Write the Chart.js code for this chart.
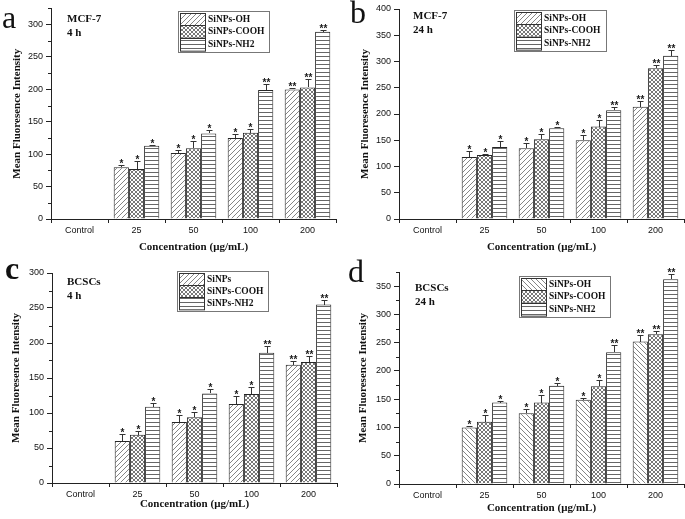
<!DOCTYPE html>
<html>
<head>
<meta charset="utf-8">
<script src="https://cdn.jsdelivr.net/npm/chart.js@4.4.0/dist/chart.umd.min.js"></script>
<style>
  body { margin: 0; background: #fff; }
  #wrap { position: relative; width: 685px; height: 519px; overflow: hidden; }
  canvas { position: absolute; }
</style>
</head>
<body>
<div id="wrap">
  <canvas id="panel_a" width="342" height="259" style="left:0;top:0"></canvas>
  <canvas id="panel_b" width="345" height="259" style="left:340px;top:0"></canvas>
  <canvas id="panel_c" width="342" height="261" style="left:0;top:258px"></canvas>
  <canvas id="panel_d" width="345" height="261" style="left:340px;top:258px"></canvas>
</div>
<script>

// ---- data ----

const categories = ['Control', '25', '50', '100', '200'];
const seriesNames = ['SiNPs-OH', 'SiNPs-COOH', 'SiNPs-NH2'];
const seriesNamesC = ['SiNPs', 'SiNPs-COOH', 'SiNPs-NH2'];   // panel c legend says "SiNPs"

// significance marks (same in every panel)
const sigOH   = ['', '*', '*', '*', '**'];
const sigCOOH = ['', '*', '*', '*', '**'];
const sigNH2  = ['', '*', '*', '**', '**'];

// a: MCF-7, 4 h
const aOH      = [null, 80, 102, 125, 200];
const aCOOH    = [null, 77, 109, 133, 203];
const aNH2     = [null, 113, 132, 199, 289];
const aOHErr   = [null, 4, 4, 6, 2];
const aCOOHErr = [null, 13, 11, 6, 13];
const aNH2Err  = [null, 1, 6, 10, 3];

// b: MCF-7, 24 h
const bOH      = [null, 118, 135, 150, 214];
const bCOOH    = [null, 122, 152, 176, 287];
const bNH2     = [null, 137, 173, 207, 311];
const bOHErr   = [null, 11, 10, 10, 10];
const bCOOHErr = [null, 2, 10, 12, 6];
const bNH2Err  = [null, 11, 2, 6, 10];

// c: BCSCs, 4 h
const cOH      = [null, 60, 87, 113, 169];
const cCOOH    = [null, 69, 94, 127, 173];
const cNH2     = [null, 109, 128, 186, 255];
const cOHErr   = [null, 10, 10, 12, 5];
const cCOOHErr = [null, 5, 7, 10, 9];
const cNH2Err  = [null, 6, 6, 10, 7];

// d: BCSCs, 24 h
const dOH      = [null, 100, 125, 149, 252];
const dCOOH    = [null, 110, 144, 173, 265];
const dNH2     = [null, 144, 174, 233, 362];
const dOHErr   = [null, 3, 7, 4, 11];
const dCOOHErr = [null, 12, 13, 11, 6];
const dNH2Err  = [null, 2, 4, 12, 9];


// ---- hatch patterns ----

function makePattern(kind) {
    var c = document.createElement('canvas');
    var s = kind === 'cross' ? 4 : 5;
    c.width = s; c.height = s;
    var g = c.getContext('2d');
    g.fillStyle = '#fff';
    g.fillRect(0, 0, s, s);
    g.strokeStyle = kind === 'cross' ? '#555' : '#666';
    g.lineWidth = 0.8;
    g.beginPath();
    if (kind === 'slash' || kind === 'cross') {
        g.moveTo(-1, s + 1); g.lineTo(s + 1, -1);
        g.moveTo(-1, 1); g.lineTo(1, -1);
        g.moveTo(s - 1, s + 1); g.lineTo(s + 1, s - 1);
    }
    if (kind === 'back' || kind === 'cross') {
        g.moveTo(-1, -1); g.lineTo(s + 1, s + 1);
        g.moveTo(s - 1, -1); g.lineTo(s + 1, 1);
        g.moveTo(-1, s - 1); g.lineTo(1, s + 1);
    }
    g.stroke();
    if (kind === 'horiz') {
        c.width = 4; c.height = 4;
        g.fillStyle = '#fff';
        g.fillRect(0, 0, 4, 4);
        g.fillStyle = '#666';
        g.fillRect(0, 0, 4, 1);
    }
    return document.createElement('canvas').getContext('2d').createPattern(c, 'repeat');
}


// ---- one panel ----

function makePanel(id, p) {
    var fills = [makePattern(p.ohHatch), makePattern('cross'), makePattern('horiz')];
    var sigs = [sigOH, sigCOOH, sigNH2];

    var datasets = p.series.map(function (vals, i) {
        return {
            label: p.names[i],
            data: vals,
            err: p.errs[i],
            sig: sigs[i],
            backgroundColor: fills[i],
            borderColor: '#262626',
            borderWidth: 1,
            barPercentage: 1.0,
            categoryPercentage: 0.8,
        };
    });

    var decor = {
        id: 'decor',
        afterDatasetsDraw: function (chart) {
            var ctx = chart.ctx;
            var y = chart.scales.y;
            ctx.save();

            // short minor ticks on the y axis (major ones come from the grid)
            ctx.strokeStyle = '#222';
            ctx.lineWidth = 1;
            ctx.beginPath();
            y.ticks.forEach(function (t) {
                if (t.value % 50 === 0) return;
                var py = Math.round(y.getPixelForValue(t.value)) + 0.5;
                ctx.moveTo(chart.chartArea.left - 3, py);
                ctx.lineTo(chart.chartArea.left, py);
            });
            ctx.stroke();

            ctx.font = 'bold 10px "Liberation Sans", Arial, sans-serif';
            ctx.textAlign = 'center';
            ctx.textBaseline = 'alphabetic';
            chart.data.datasets.forEach(function (ds, i) {
                var meta = chart.getDatasetMeta(i);
                meta.data.forEach(function (bar, j) {
                    if (ds.data[j] == null) return;
                    var x = Math.round(bar.x) + 0.5;
                    var top = Math.round(y.getPixelForValue(ds.data[j] + ds.err[j])) + 0.5;
                    ctx.strokeStyle = '#333';
                    ctx.lineWidth = 1;
                    ctx.beginPath();
                    ctx.moveTo(x, Math.round(bar.y));
                    ctx.lineTo(x, top);
                    ctx.moveTo(x - 3, top);
                    ctx.lineTo(x + 3, top);
                    ctx.stroke();
                    ctx.fillStyle = '#1a1a1a';
                    ctx.fillText(ds.sig[j], x, top + 1);
                });
            });
            ctx.restore();
        },
        afterDraw: function (chart) {
            var ctx = chart.ctx;
            var L = p.legend;
            var rowH = L.h / 3;
            ctx.save();

            // legend box
            ctx.strokeStyle = '#777';
            ctx.lineWidth = 1;
            ctx.strokeRect(L.x + 0.5, L.y + 0.5, L.w, L.h);
            chart.data.datasets.forEach(function (ds, i) {
                var ry = Math.round(L.y + 2 + i * (rowH - 1.3));
                ctx.fillStyle = ds.backgroundColor;
                ctx.fillRect(L.x + 2, ry, 25, rowH - 1);
                ctx.strokeStyle = '#333';
                ctx.strokeRect(L.x + 2.5, ry + 0.5, 25, rowH - 1);
                ctx.fillStyle = '#111';
                ctx.font = 'bold 9.5px "Liberation Serif", "Times New Roman", serif';
                ctx.textAlign = 'left';
                ctx.textBaseline = 'middle';
                ctx.fillText(ds.label, L.x + 30, ry + rowH / 2);
            });

            // cell line and time
            ctx.font = 'bold 11px "Liberation Serif", "Times New Roman", serif';
            ctx.textBaseline = 'middle';
            ctx.fillText(p.note[0], p.noteX, p.noteY);
            ctx.fillText(p.note[1], p.noteX, p.noteY + 14);

            // panel letter
            ctx.font = (p.letterBold ? 'bold ' : '') + '32px "Liberation Serif", "Times New Roman", serif';
            ctx.textBaseline = 'alphabetic';
            ctx.fillText(p.letter, p.letterX, p.letterY);
            ctx.restore();
        }
    };

    return new Chart(document.getElementById(id), {
        type: 'bar',
        data: { labels: categories, datasets: datasets },
        plugins: [decor],
        options: {
            responsive: false,
            animation: false,
            layout: { padding: { top: p.top, right: p.right, left: 0, bottom: 0 } },
            plugins: {
                legend: { display: false },
                tooltip: { enabled: false },
            },
            scales: {
                x: {
                    offset: true,
                    grid: { offset: true, drawOnChartArea: false, tickLength: 4, color: '#222' },
                    border: { color: '#222', width: 1 },
                    ticks: {
                        color: '#111', padding: 2,
                        font: { family: '"Liberation Sans", Arial, sans-serif', size: 9 },
                    },
                    title: {
                        display: true,
                        text: 'Concentration (μg/mL)',
                        color: '#111',
                        padding: { top: 0, bottom: p.xTitlePad },
                        font: { family: '"Liberation Serif", "Times New Roman", serif', size: 11, weight: 'bold' },
                    },
                    afterFit: function (scale) { scale.height = p.xH; },
                },
                y: {
                    min: 0,
                    max: p.max,
                    grid: {
                        drawOnChartArea: false, tickLength: 5, color: '#222',
                        tickColor: function (c) { return c.tick && c.tick.value % 50 === 0 ? '#222' : 'rgba(0,0,0,0)'; },
                    },
                    border: { color: '#222', width: 1 },
                    ticks: {
                        stepSize: 25,
                        color: '#111',
                        padding: 3,
                        font: { family: '"Liberation Sans", Arial, sans-serif', size: 9 },
                        callback: function (v) { return v % 50 === 0 ? v : ''; },
                    },
                    title: {
                        display: true,
                        text: 'Mean Fluoresence Intensity',
                        color: '#111',
                        padding: { top: p.yTitlePad, bottom: 0 },
                        font: { family: '"Liberation Serif", "Times New Roman", serif', size: 11, weight: 'bold' },
                    },
                    afterFit: function (scale) { scale.width = p.yW; },
                },
            },
        },
    });
}


makePanel('panel_a', {
    series: [aOH, aCOOH, aNH2], errs: [aOHErr, aCOOHErr, aNH2Err],
    names: seriesNames, ohHatch: 'slash', max: 325,
    top: 8, right: 6, yW: 51, xH: 40, yTitlePad: 11, xTitlePad: 5,
    legend: { x: 178, y: 11, w: 91, h: 41 },
    note: ['MCF-7', '4 h'], noteX: 67, noteY: 19,
    letter: 'a', letterX: 2, letterY: 28, letterBold: false,
});

makePanel('panel_b', {
    series: [bOH, bCOOH, bNH2], errs: [bOHErr, bCOOHErr, bNH2Err],
    names: seriesNames, ohHatch: 'slash', max: 400,
    top: 9, right: 1, yW: 59, xH: 40, yTitlePad: 19, xTitlePad: 5,
    legend: { x: 174, y: 10, w: 92, h: 41 },
    note: ['MCF-7', '24 h'], noteX: 73, noteY: 16,
    letter: 'b', letterX: 10, letterY: 23, letterBold: false,
});

makePanel('panel_c', {
    series: [cOH, cCOOH, cNH2], errs: [cOHErr, cCOOHErr, cNH2Err],
    names: seriesNamesC, ohHatch: 'slash', max: 300,
    top: 15, right: 5, yW: 52, xH: 36, yTitlePad: 10, xTitlePad: 8,
    legend: { x: 177, y: 13, w: 91, h: 40 },
    note: ['BCSCs', '4 h'], noteX: 67, noteY: 24,
    letter: 'c', letterX: 5, letterY: 21, letterBold: true,
});

makePanel('panel_d', {
    series: [dOH, dCOOH, dNH2], errs: [dOHErr, dCOOHErr, dNH2Err],
    names: seriesNames, ohHatch: 'back', max: 375,
    top: 14, right: 1, yW: 59, xH: 35, yTitlePad: 17, xTitlePad: 4,
    legend: { x: 179, y: 18, w: 91, h: 41 },
    note: ['BCSCs', '24 h'], noteX: 75, noteY: 30,
    letter: 'd', letterX: 8, letterY: 24, letterBold: false,
});

</script>
</body>
</html>
